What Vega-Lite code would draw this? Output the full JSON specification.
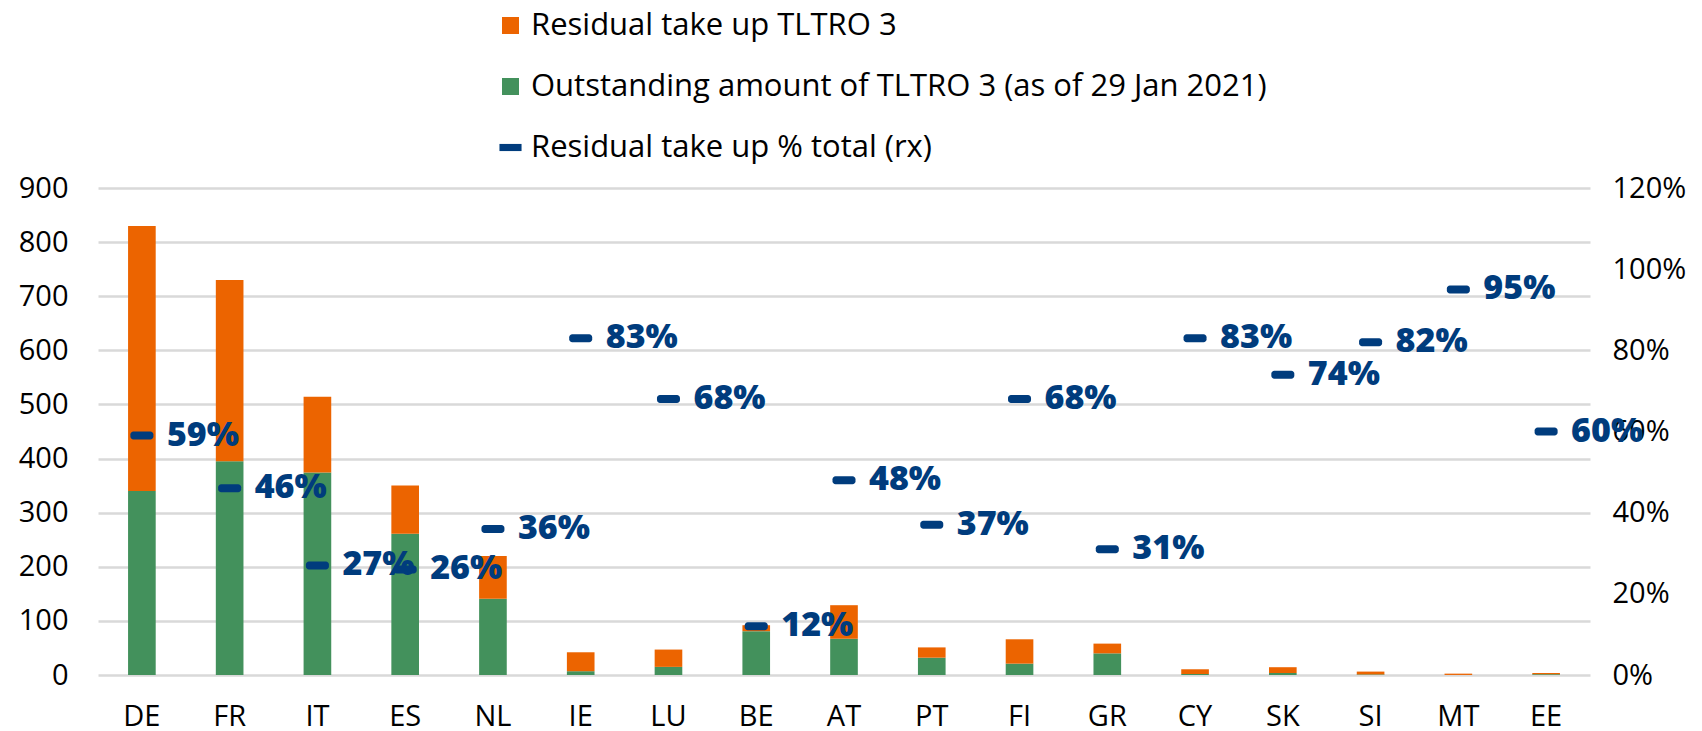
{
  "$schema": "https://vega.github.io/schema/vega-lite/v6.json",
  "autosize": {"type": "none"},
  "width": 1492,
  "height": 487,
  "padding": {"left": 98, "top": 188, "right": 112, "bottom": 56},
  "background": "white",
  "config": {
    "view": {"stroke": null},
    "font": "Open Sans",
    "axis": {"labelFont": "Open Sans", "labelFontSize": 29, "labelColor": "#000000", "domain": false, "ticks": false}
  },
  "datasets": {
    "bars": [
      {"country": "DE", "series": "Outstanding amount of TLTRO 3 (as of 29 Jan 2021)", "value": 340},
      {"country": "DE", "series": "Residual take up TLTRO 3", "value": 490},
      {"country": "FR", "series": "Outstanding amount of TLTRO 3 (as of 29 Jan 2021)", "value": 395},
      {"country": "FR", "series": "Residual take up TLTRO 3", "value": 335},
      {"country": "IT", "series": "Outstanding amount of TLTRO 3 (as of 29 Jan 2021)", "value": 374},
      {"country": "IT", "series": "Residual take up TLTRO 3", "value": 140},
      {"country": "ES", "series": "Outstanding amount of TLTRO 3 (as of 29 Jan 2021)", "value": 261},
      {"country": "ES", "series": "Residual take up TLTRO 3", "value": 89},
      {"country": "NL", "series": "Outstanding amount of TLTRO 3 (as of 29 Jan 2021)", "value": 141},
      {"country": "NL", "series": "Residual take up TLTRO 3", "value": 79},
      {"country": "IE", "series": "Outstanding amount of TLTRO 3 (as of 29 Jan 2021)", "value": 7},
      {"country": "IE", "series": "Residual take up TLTRO 3", "value": 35},
      {"country": "LU", "series": "Outstanding amount of TLTRO 3 (as of 29 Jan 2021)", "value": 15},
      {"country": "LU", "series": "Residual take up TLTRO 3", "value": 32},
      {"country": "BE", "series": "Outstanding amount of TLTRO 3 (as of 29 Jan 2021)", "value": 81},
      {"country": "BE", "series": "Residual take up TLTRO 3", "value": 11},
      {"country": "AT", "series": "Outstanding amount of TLTRO 3 (as of 29 Jan 2021)", "value": 67},
      {"country": "AT", "series": "Residual take up TLTRO 3", "value": 62},
      {"country": "PT", "series": "Outstanding amount of TLTRO 3 (as of 29 Jan 2021)", "value": 32},
      {"country": "PT", "series": "Residual take up TLTRO 3", "value": 19},
      {"country": "FI", "series": "Outstanding amount of TLTRO 3 (as of 29 Jan 2021)", "value": 21},
      {"country": "FI", "series": "Residual take up TLTRO 3", "value": 45},
      {"country": "GR", "series": "Outstanding amount of TLTRO 3 (as of 29 Jan 2021)", "value": 40},
      {"country": "GR", "series": "Residual take up TLTRO 3", "value": 18},
      {"country": "CY", "series": "Outstanding amount of TLTRO 3 (as of 29 Jan 2021)", "value": 1.8},
      {"country": "CY", "series": "Residual take up TLTRO 3", "value": 8.8},
      {"country": "SK", "series": "Outstanding amount of TLTRO 3 (as of 29 Jan 2021)", "value": 3.7},
      {"country": "SK", "series": "Residual take up TLTRO 3", "value": 10.7},
      {"country": "SI", "series": "Outstanding amount of TLTRO 3 (as of 29 Jan 2021)", "value": 1.1},
      {"country": "SI", "series": "Residual take up TLTRO 3", "value": 5.2},
      {"country": "MT", "series": "Outstanding amount of TLTRO 3 (as of 29 Jan 2021)", "value": 0.1},
      {"country": "MT", "series": "Residual take up TLTRO 3", "value": 2.4},
      {"country": "EE", "series": "Outstanding amount of TLTRO 3 (as of 29 Jan 2021)", "value": 1.5},
      {"country": "EE", "series": "Residual take up TLTRO 3", "value": 2.2}
    ],
    "pct": [
      {"country": "DE", "series": "Residual take up % total (rx)", "pct": 0.59},
      {"country": "FR", "series": "Residual take up % total (rx)", "pct": 0.46},
      {"country": "IT", "series": "Residual take up % total (rx)", "pct": 0.27},
      {"country": "ES", "series": "Residual take up % total (rx)", "pct": 0.26},
      {"country": "NL", "series": "Residual take up % total (rx)", "pct": 0.36},
      {"country": "IE", "series": "Residual take up % total (rx)", "pct": 0.83},
      {"country": "LU", "series": "Residual take up % total (rx)", "pct": 0.68},
      {"country": "BE", "series": "Residual take up % total (rx)", "pct": 0.12},
      {"country": "AT", "series": "Residual take up % total (rx)", "pct": 0.48},
      {"country": "PT", "series": "Residual take up % total (rx)", "pct": 0.37},
      {"country": "FI", "series": "Residual take up % total (rx)", "pct": 0.68},
      {"country": "GR", "series": "Residual take up % total (rx)", "pct": 0.31},
      {"country": "CY", "series": "Residual take up % total (rx)", "pct": 0.83},
      {"country": "SK", "series": "Residual take up % total (rx)", "pct": 0.74},
      {"country": "SI", "series": "Residual take up % total (rx)", "pct": 0.82},
      {"country": "MT", "series": "Residual take up % total (rx)", "pct": 0.95},
      {"country": "EE", "series": "Residual take up % total (rx)", "pct": 0.60}
    ]
  },
  "encoding": {
    "x": {
      "field": "country", "type": "nominal", "sort": null,
      "scale": {"paddingInner": 0.685, "paddingOuter": 0.3425},
      "axis": {"title": null, "labelAngle": 0, "labelPadding": 27, "labelBaseline": "top", "grid": false}
    }
  },
  "layer": [
    {
      "data": {"name": "bars"},
      "mark": {"type": "bar"},
      "encoding": {
        "y": {
          "field": "value", "type": "quantitative", "stack": "zero",
          "scale": {"domain": [0, 900], "nice": false},
          "axis": {"title": null, "values": [0,100,200,300,400,500,600,700,800,900], "grid": true, "gridColor": "#d9d9d9", "gridWidth": 2.5, "labelPadding": 30, "orient": "left"}
        },
        "order": {"field": "series", "sort": "ascending"},
        "color": {
          "field": "series", "type": "nominal",
          "scale": {
            "domain": ["Residual take up TLTRO 3", "Outstanding amount of TLTRO 3 (as of 29 Jan 2021)", "Residual take up % total (rx)"],
            "range": ["#EC6400", "#43915C", "#003C7D"]
          },
          "legend": {
            "title": null,
            "orient": "none",
            "legendX": 397,
            "legendY": -178,
            "direction": "vertical",
            "padding": 0,
            "rowPadding": 29,
            "symbolType": "square",
            "symbolSize": 289,
            "symbolStrokeWidth": 0,
            "symbolOpacity": 1,
            "labelFont": "Open Sans",
            "labelFontSize": 31,
            "labelColor": "#000000",
            "labelOffset": 5,
            "labelLimit": 0,
            "encode": {
              "symbols": {
                "update": {
                  "shape": {"signal": "datum.value === 'Residual take up % total (rx)' ? 'M-1.3,-0.42H1.3V0.42H-1.3Z' : 'square'"}
                }
              }
            }
          }
        }
      }
    },
    {
      "data": {"name": "pct"},
      "encoding": {
        "y": {
          "field": "pct", "type": "quantitative",
          "scale": {"domain": [0, 1.2], "nice": false},
          "axis": {"title": null, "orient": "right", "values": [0, 0.2, 0.4, 0.6, 0.8, 1.0, 1.2], "format": ".0%", "grid": false, "labelPadding": 22}
        }
      },
      "layer": [
        {
          "mark": {"type": "tick", "size": 23, "thickness": 8, "cornerRadius": 3, "opacity": 1},
          "encoding": {
            "color": {"field": "series", "type": "nominal"}
          }
        },
        {
          "mark": {"type": "text", "align": "left", "baseline": "middle", "dx": 25, "font": "Open Sans", "fontWeight": 800, "fontSize": 34, "color": "#003C7D"},
          "encoding": {
            "text": {"field": "pct", "type": "quantitative", "format": ".0%"}
          }
        }
      ]
    }
  ],
  "resolve": {"scale": {"y": "independent"}}
}
